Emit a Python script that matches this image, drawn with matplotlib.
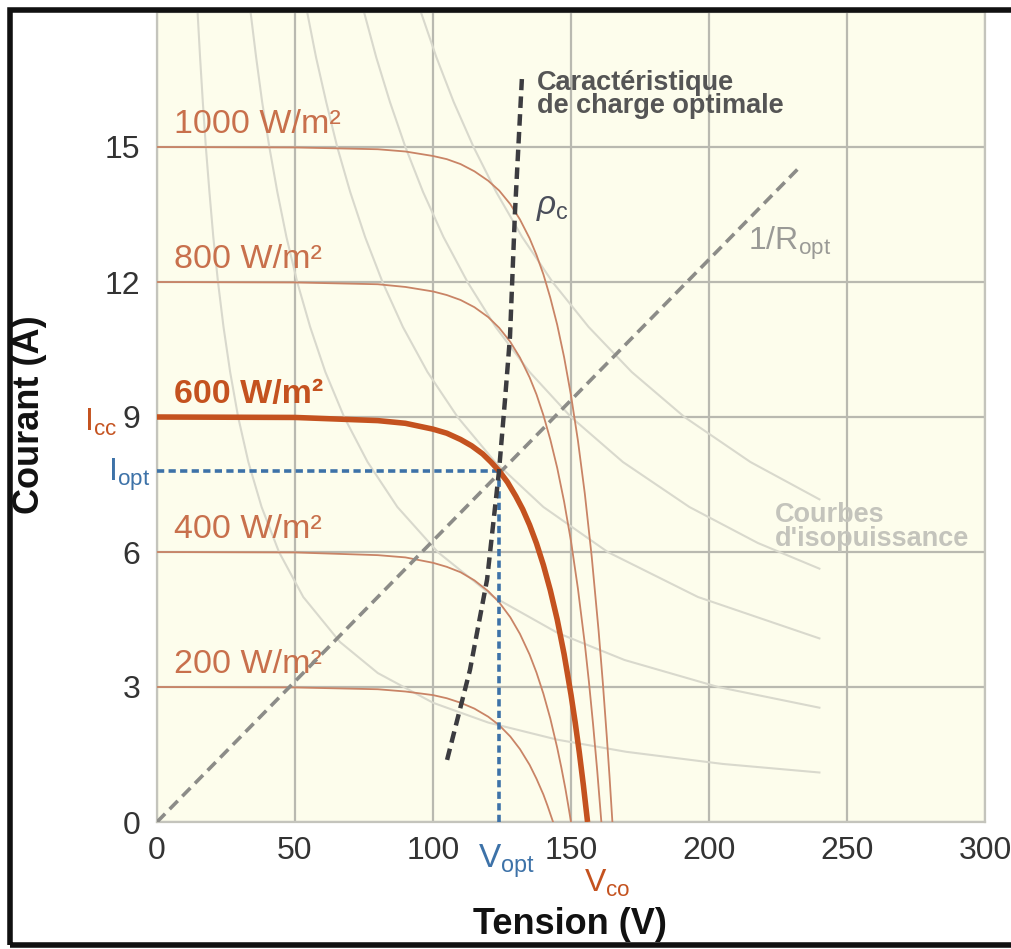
import matplotlib.pyplot as plt
from matplotlib.patches import Rectangle

plt.rcParams['font.family'] = ['Liberation Sans', 'DejaVu Sans']
plt.rcParams['mathtext.fontset'] = 'custom'
plt.rcParams['mathtext.rm'] = 'Liberation Sans'
plt.rcParams['mathtext.it'] = 'Liberation Sans:italic'

#%% Data
# I-V curves (V in volts, I in amps) for each irradiance
irr_labels = ['1000 W/m²', '800 W/m²', '600 W/m²', '400 W/m²', '200 W/m²']
isc = [15, 12, 9, 6, 3]

v_1000 = [0, 50, 80, 90, 100, 105, 110, 115, 120, 124, 128, 131.5, 135, 137.5, 140, 142.5,
          145, 147.5, 150, 152.5, 155, 157.5, 160, 161.5, 163, 164, 165]
i_1000 = [15, 14.99, 14.95, 14.90, 14.80, 14.73, 14.62, 14.46, 14.25, 14.03, 13.73, 13.39,
          12.97, 12.60, 12.17, 11.65, 11.05, 10.33, 9.48, 8.48, 7.30, 5.90, 4.25, 3.12, 1.87, 0.97, 0]

v_800 = [0, 50, 80, 90, 100, 105, 110, 115, 120, 124, 128, 131.5, 135, 137.5, 140, 142.5,
         145, 147.5, 150, 152.5, 155, 156.5, 158, 159.5, 161]
i_800 = [12, 11.99, 11.95, 11.89, 11.79, 11.71, 11.60, 11.44, 11.22, 10.98, 10.67, 10.32,
         9.88, 9.50, 9.04, 8.50, 7.87, 7.12, 6.24, 5.19, 3.96, 3.11, 2.17, 1.14, 0]

v_600 = [0, 50, 80, 90, 100, 105, 110, 114, 118, 121, 124, 127, 130, 132.5, 135, 137.5,
         140, 142.5, 145, 147.5, 150, 151.5, 153, 154.5, 156]
i_600 = [9, 8.99, 8.92, 8.86, 8.73, 8.64, 8.50, 8.36, 8.18, 8.00, 7.80, 7.55, 7.24, 6.95,
         6.60, 6.19, 5.71, 5.15, 4.50, 3.73, 2.83, 2.22, 1.55, 0.81, 0]

v_400 = [0, 50, 80, 90, 100, 105, 110, 115, 120, 124, 128, 131.5, 135, 137.5, 140, 142.5,
         145, 146.5, 148, 149, 150]
i_400 = [6, 5.99, 5.93, 5.88, 5.76, 5.67, 5.55, 5.37, 5.13, 4.88, 4.55, 4.18, 3.72, 3.32,
         2.85, 2.30, 1.65, 1.21, 0.73, 0.37, 0]

v_200 = [0, 50, 80, 90, 100, 105, 110, 115, 120, 124, 128, 131.5, 135, 137.5, 140, 141.5, 143.5]
i_200 = [3, 2.99, 2.95, 2.90, 2.82, 2.75, 2.65, 2.52, 2.34, 2.15, 1.90, 1.62, 1.27, 0.96,
         0.61, 0.36, 0]

# iso-power curves
iso_v1 = [14.7, 15.6, 16.6, 17.7, 19, 20.4, 22.1, 24.1, 26.5, 29.4, 33.1, 37.9, 44.2, 53,
          66.3, 80, 100, 120, 145, 170, 205, 240]
iso_i1 = [18, 17, 16, 15, 14, 13, 12, 11, 10, 9, 8, 7, 6, 5, 4, 3.31, 2.65, 2.21, 1.83,
          1.56, 1.29, 1.10]
iso_v2 = [33.9, 35.9, 38.1, 40.7, 43.6, 46.9, 50.8, 55.5, 61, 67.8, 76.3, 87.1, 101.7,
          122, 145.2, 169.4, 203.3, 240]
iso_i2 = [18, 17, 16, 15, 14, 13, 12, 11, 10, 9, 8, 7, 6, 5, 4.2, 3.6, 3.0, 2.54]
iso_v3 = [54.4, 57.6, 61.3, 65.3, 70, 75.4, 81.7, 89.1, 98, 108.9, 122.5, 140, 163.3, 196, 240]
iso_i3 = [18, 17, 16, 15, 14, 13, 12, 11, 10, 9, 8, 7, 6, 5, 4.08]
iso_v4 = [75, 79.4, 84.4, 90, 96.4, 103.8, 112.5, 122.7, 135, 150, 168.8, 192.9, 217.7, 240]
iso_i4 = [18, 17, 16, 15, 14, 13, 12, 11, 10, 9, 8, 7, 6.2, 5.63]
iso_v5 = [95.6, 101.2, 107.5, 114.7, 122.9, 132.3, 143.3, 156.4, 172, 191.1, 215, 240]
iso_i5 = [18, 17, 16, 15, 14, 13, 12, 11, 10, 9, 8, 7.17]

# optimal load characteristic (rho_c)
rho_v = [105.1, 113.4, 119.6, 123.9, 126.1, 127.9, 129.7, 132.2]
rho_i = [1.38, 3.38, 5.39, 7.79, 9.39, 10.79, 13.55, 16.51]

# 1/Ropt line
ropt_v = [0, 232]
ropt_i = [0, 14.5]

# optimum point
v_opt = 124
i_opt = 7.8

x_ticks = [0, 50, 100, 150, 200, 250, 300]
y_ticks = [0, 3, 6, 9, 12, 15]

#%% Plot
fig = plt.figure(figsize=(10.12, 9.49), dpi=100)
ax = fig.add_axes([157/1012, 127/949, 828/1012, 810/949])
ax.set_facecolor('#fdfdec')

ax.set_xlim(0, 300)
ax.set_ylim(0, 18)
ax.set_xticks(x_ticks)
ax.set_yticks(y_ticks)
ax.tick_params(length=0, labelsize=23, labelcolor='#333333')
ax.tick_params(axis='x', pad=10)
ax.tick_params(axis='y', pad=12)
ax.grid(True, color='#b9b9b0', lw=1.6)
ax.set_axisbelow(True)
for s in ax.spines.values():
    s.set_color('#c4c4bc')
    s.set_linewidth(1.6)

iso_col = '#d9d9cd'
for vv, ii in [(iso_v1, iso_i1), (iso_v2, iso_i2), (iso_v3, iso_i3), (iso_v4, iso_i4), (iso_v5, iso_i5)]:
    ax.plot(vv, ii, color=iso_col, lw=1.5, zorder=2)

thin_col = '#c98466'
ax.plot(v_1000, i_1000, color=thin_col, lw=1.3, zorder=3)
ax.plot(v_800, i_800, color=thin_col, lw=1.3, zorder=3)
ax.plot(v_400, i_400, color=thin_col, lw=1.3, zorder=3)
ax.plot(v_200, i_200, color=thin_col, lw=1.3, zorder=3)
ax.plot(v_600, i_600, color='#c4521f', lw=4, zorder=5, solid_capstyle='butt')

# 1/Ropt
ax.plot(ropt_v, ropt_i, color='#8c8c88', lw=2.6, ls=(0, (3.2, 1.8)), zorder=4)
# rho_c
ax.plot(rho_v, rho_i, color='#3c3c40', lw=3.2, ls=(0, (2.6, 1.4)), zorder=6)
# Vopt / Iopt
blue = '#3d72a8'
ax.plot([v_opt, v_opt], [0, i_opt], color=blue, lw=2.6, ls=(0, (2, 1.2)), zorder=4)
ax.plot([0, v_opt], [i_opt, i_opt], color=blue, lw=2.6, ls=(0, (2, 1.2)), zorder=4)

# irradiance labels
lab_col = '#c8704c'
for lab, isc_val in zip(irr_labels, isc):
    bold = lab.startswith('600')
    ax.text(6, isc_val + 0.5, lab, fontsize=24.5, color='#c4521f' if bold else lab_col,
            fontweight='bold' if bold else 'normal', va='center', ha='left')

ax.text(137.7, 16.72, 'Caractéristique\nde charge optimale', fontsize=19.5, fontweight='bold',
        color='#555555', va='top', ha='left', linespacing=0.88)
ax.text(137.5, 13.65, r'$\rho_{\rm c}$', fontsize=24, color='#4a4e5a', va='center', ha='left')
ax.text(214, 12.85, r'1/R$_{\rm opt}$', fontsize=23, color='#9a9a96', va='center', ha='left')
ax.text(224, 7.1, "Courbes\nd'isopuissance", fontsize=19.5, fontweight='bold', color='#c4c4bc',
        va='top', ha='left', linespacing=0.9)

ax.text(-14.5, 8.88, r'I$_{\rm cc}$', fontsize=23, color='#c4521f', va='center', ha='right',
        clip_on=False)
ax.text(-2.5, 7.72, r'I$_{\rm opt}$', fontsize=23, color=blue, va='center', ha='right',
        clip_on=False)
ax.text(126.8, -0.45, r'V$_{\rm opt}$', fontsize=24, color=blue, va='top', ha='center',
        clip_on=False)
ax.text(163, -1.36, r'V$_{\rm co}$', fontsize=23, color='#c4521f', va='center', ha='center',
        clip_on=False)

fig.text(570/1012, 1 - 925/949, 'Tension (V)', fontsize=26, fontweight='bold', ha='center',
         va='center', color='#111111')
fig.text(30/1012, 1 - 415/949, 'Courant (A)', fontsize=26, fontweight='bold', ha='center',
         va='center', rotation=90, color='#111111')

# black frame round the picture (no right side)
fig.patches.append(Rectangle((10/1012, 4/949), 1.2, 935/949, transform=fig.transFigure,
                             fill=False, edgecolor='#111111', lw=4, zorder=10))

fig.savefig('out.png', dpi=100)
